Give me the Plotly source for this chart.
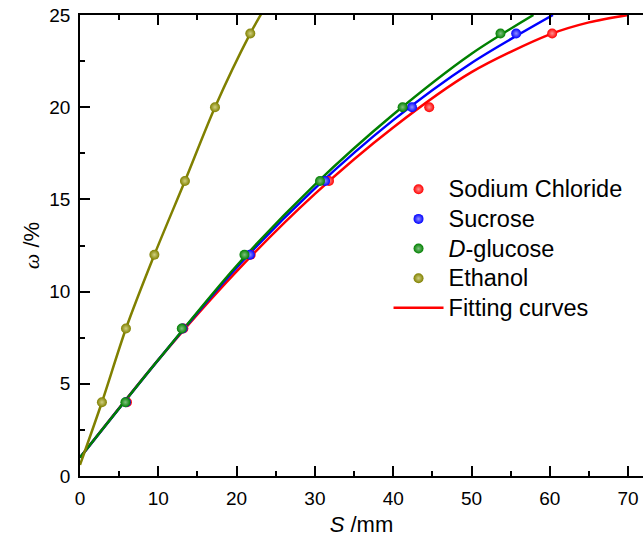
import plotly.graph_objects as go

# ---- data ----
omega_levels = [4, 8, 12, 16, 20, 24]

S_nacl    = [6.0, 13.2, 21.8, 31.8, 44.6, 60.3]
S_sucrose = [5.87, 13.1, 21.7, 31.3, 42.4, 55.7]
S_glucose = [5.8, 13.0, 21.0, 30.65, 41.2, 53.7]
S_ethanol = [2.8, 5.87, 9.5, 13.4, 17.24, 21.75]

# fitting curves
fit_nacl_S    = [0, 10, 20, 30, 40, 50, 60, 65, 70]
fit_nacl_w    = [1.0, 6.3, 11.1, 15.3, 18.9, 21.9, 23.95, 24.6, 25.0]
fit_sucrose_S = [0, 10, 20, 30, 40, 50, 60.4]
fit_sucrose_w = [1.0, 6.3, 11.3, 15.6, 19.3, 22.4, 25.0]
fit_glucose_S = [0, 10, 20, 30, 40, 50, 57.9]
fit_glucose_w = [1.0, 6.3, 11.4, 15.8, 19.6, 22.9, 25.0]
fit_ethanol_S = [0, 2.8, 5.87, 9.5, 13.4, 17.24, 21.75, 23.2]
fit_ethanol_w = [0.6, 4.0, 8.0, 12.0, 16.0, 20.0, 24.0, 25.1]

names = ["Sodium Chloride", "Sucrose", "<i>D</i>-glucose", "Ethanol"]
colors = ["#ff0000", "#0000ff", "#008000", "#808000"]
light = ["#ff9090", "#9090ff", "#80c080", "#d0d080"]

BIG = "<span style='font-size:23.5px'>{}</span>"

fig = go.Figure()

fits = [(fit_nacl_S, fit_nacl_w), (fit_sucrose_S, fit_sucrose_w),
        (fit_glucose_S, fit_glucose_w), (fit_ethanol_S, fit_ethanol_w)]
for (xs, ys), c in zip(fits, colors):
    fig.add_trace(go.Scatter(x=xs, y=ys, mode="lines",
                             line=dict(color=c, width=2.5, shape="spline", smoothing=0.8),
                             showlegend=False, hoverinfo="skip"))

pts = [S_nacl, S_sucrose, S_glucose, S_ethanol]
for xs, nm, c, lc in zip(pts, names, colors, light):
    fig.add_trace(go.Scatter(x=xs, y=omega_levels, mode="markers", name=BIG.format(nm),
                             marker=dict(symbol="circle", size=10, color=c,
                                         gradient=dict(type="radial", color=lc),
                                         line=dict(width=0))))

fig.add_trace(go.Scatter(x=[None], y=[None], mode="lines", name=BIG.format("Fitting curves"),
                         line=dict(color="#ff0000", width=2.5)))

axis_common = dict(showgrid=False, zeroline=False, showline=True, linecolor="black",
                   linewidth=1.5, ticks="inside", ticklen=10, tickwidth=1.5,
                   tickcolor="black", ticklabelstandoff=4, ticklabeloverflow="allow",
                   tickfont=dict(family="Liberation Sans, Arial", size=19, color="black"))

fig.update_xaxes(range=[0, 71.9], dtick=10, tick0=0, mirror="ticks",
                 minor=dict(dtick=5, ticks="inside", ticklen=5, tickwidth=1.5, tickcolor="black"),
                 title=dict(text="<i>S</i> /mm", standoff=9,
                            font=dict(family="Liberation Sans, Arial", size=22, color="black")),
                 **axis_common)
fig.update_yaxes(range=[0, 25], dtick=5, tick0=0, mirror=False,
                 minor=dict(dtick=2.5, ticks="inside", ticklen=5, tickwidth=1.5, tickcolor="black"),
                 title=dict(text="<span style='font-family:Liberation Serif'><i>ω</i></span> /%",
                            standoff=4,
                            font=dict(family="Liberation Sans, Arial", size=22, color="black")),
                 **axis_common)

fig.update_layout(
    width=643, height=546,
    margin=dict(l=80, r=0, t=15, b=70, autoexpand=False),
    plot_bgcolor="white", paper_bgcolor="white",
    legend=dict(x=0.548, y=0.665, xanchor="left", yanchor="top",
                bgcolor="rgba(0,0,0,0)", tracegroupgap=0, itemwidth=50,
                font=dict(family="Liberation Sans, Arial", size=20.5, color="black")),
)

# remove the page's default body margin so the figure fills the window exactly
fig.write_html("out.html", config={"displayModeBar": False},
               post_script="document.body.style.margin='0';document.body.style.overflow='hidden';")
